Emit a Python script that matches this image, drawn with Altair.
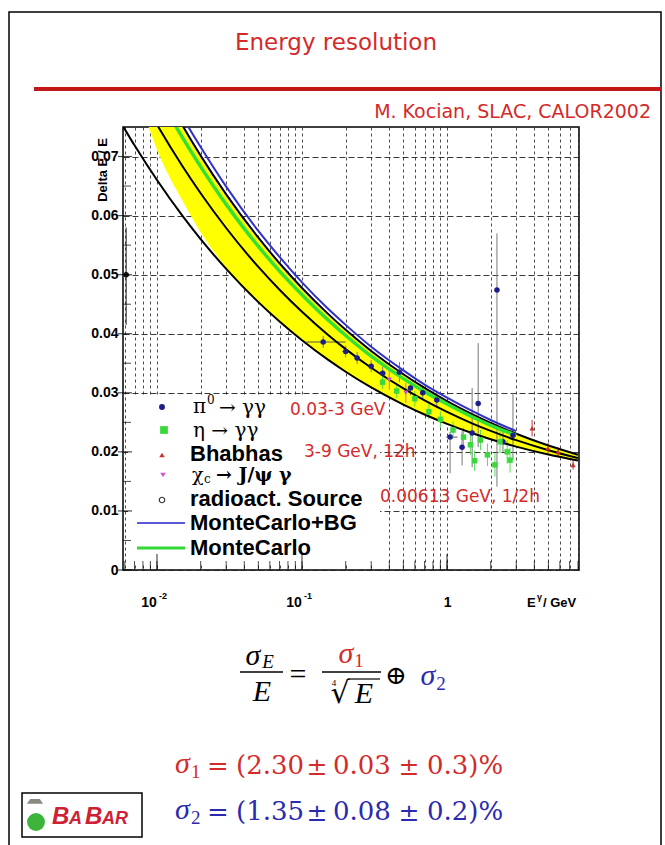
import altair as alt
import pandas as pd

# ---------------- data ----------------
# fitted resolution curves (sigma_E / E) on a common energy grid (GeV)
fit_E = [0.0058, 0.007, 0.01, 0.015, 0.02, 0.03, 0.05, 0.07, 0.1, 0.15, 0.2,
         0.3, 0.5, 0.7, 1.0, 1.5, 2.0, 3.0, 5.0, 8.0]
fit_low = [0.07523, 0.07190, 0.06602, 0.05995, 0.05602, 0.05098, 0.04535, 0.04206,
           0.03889, 0.03565, 0.03357, 0.03091, 0.02801, 0.02633, 0.02474, 0.02315,
           0.02214, 0.02089, 0.01955, 0.01852]
fit_mid = [0.0861, 0.08223, 0.07541, 0.06835, 0.06378, 0.05790, 0.05131, 0.04745,
           0.04371, 0.03987, 0.03740, 0.03424, 0.03074, 0.02871, 0.02676, 0.02479,
           0.02355, 0.02198, 0.02028, 0.01895]
fit_up = [0.0949, 0.09066, 0.08309, 0.07524, 0.07015, 0.06360, 0.05626, 0.05193,
          0.04775, 0.04345, 0.04067, 0.03709, 0.03314, 0.03082, 0.02860, 0.02634,
          0.02490, 0.02307, 0.02108, 0.01952]

# Monte Carlo curves
mc_E = [0.0058, 0.007, 0.01, 0.015, 0.02, 0.03, 0.05, 0.07, 0.1, 0.15, 0.2,
        0.3, 0.5, 0.7, 1.0, 1.5, 2.0, 3.0]
mc_plain = [0.0923, 0.0881, 0.0808, 0.0732, 0.0683, 0.0619, 0.0548, 0.0506, 0.0466,
            0.0424, 0.0397, 0.0362, 0.0324, 0.0302, 0.0281, 0.0259, 0.0245, 0.0228]
mc_bg = [0.0968, 0.0925, 0.0848, 0.0767, 0.0716, 0.0649, 0.0574, 0.0530, 0.0487,
         0.0443, 0.0415, 0.0378, 0.0338, 0.0314, 0.0292, 0.0269, 0.0254, 0.0235]

# yellow error band
band_E = [0.0087, 0.01, 0.015, 0.02, 0.03, 0.05, 0.07, 0.1, 0.15, 0.2, 0.3, 0.5,
          0.7, 1.0, 1.5, 2.0, 3.0, 5.0, 8.0]
band_lo = [0.0752, 0.0712, 0.0625, 0.0572, 0.0512, 0.04535, 0.04206, 0.03889, 0.03565,
           0.03357, 0.03091, 0.02801, 0.02633, 0.02474, 0.02315, 0.02214, 0.02089,
           0.01955, 0.01852]
band_hi = [0.0859, 0.08309, 0.07524, 0.07015, 0.06360, 0.05626, 0.05193, 0.04775,
           0.04345, 0.04067, 0.03709, 0.03314, 0.03082, 0.02860, 0.02634, 0.02490,
           0.02307, 0.02108, 0.01952]

# pi0 -> gamma gamma
pi0_E = [0.14, 0.20, 0.24, 0.30, 0.36, 0.47, 0.56, 0.68, 0.85, 1.05, 1.27, 1.49, 1.64, 2.21, 2.43, 2.85]
pi0_v = [0.0386, 0.0370, 0.0359, 0.0345, 0.0333, 0.0335, 0.0308, 0.0300, 0.0288, 0.0225,
         0.0208, 0.0232, 0.0282, 0.0474, 0.0217, 0.0228]
pi0_lo = [0.0376, 0.0360, 0.0349, 0.0335, 0.0322, 0.0318, 0.0296, 0.0288, 0.0274, 0.0164,
          0.0177, 0.0174, 0.0208, 0.0141, 0.0200, 0.0186]
pi0_hi = [0.0396, 0.0380, 0.0369, 0.0355, 0.0344, 0.0352, 0.0320, 0.0312, 0.0302, 0.0234,
          0.0235, 0.0308, 0.0384, 0.0570, 0.0235, 0.0300]
pi0_Elo = [0.107, 0.19, 0.23, 0.29, 0.345, 0.45, 0.54, 0.66, 0.82, 0.99, 1.22, 1.44, 1.58, 2.13, 2.35, 2.75]
pi0_Ehi = [0.20, 0.21, 0.25, 0.31, 0.375, 0.49, 0.58, 0.70, 0.88, 1.18, 1.32, 1.54, 1.70, 2.29, 2.51, 2.95]

# eta -> gamma gamma
eta_E = [0.36, 0.45, 0.60, 0.75, 0.90, 1.10, 1.30, 1.45, 1.55, 1.70, 1.90, 2.14, 2.32, 2.60, 2.72]
eta_v = [0.0318, 0.0303, 0.0290, 0.0268, 0.0255, 0.0237, 0.0225, 0.0212, 0.0185, 0.0220,
         0.0195, 0.0178, 0.0217, 0.0200, 0.0186]
eta_lo = [0.0306, 0.0291, 0.0277, 0.0255, 0.0241, 0.0222, 0.0209, 0.0195, 0.0168, 0.0203,
          0.0176, 0.0158, 0.0198, 0.0180, 0.0165]
eta_hi = [0.0330, 0.0315, 0.0303, 0.0281, 0.0269, 0.0252, 0.0241, 0.0229, 0.0202, 0.0237,
          0.0214, 0.0198, 0.0236, 0.0220, 0.0207]

# Bhabhas
bha_E = [3.86, 4.97, 5.83, 7.4]
bha_v = [0.0240, 0.0206, 0.0200, 0.0178]
bha_lo = [0.0226, 0.0197, 0.0192, 0.0170]
bha_hi = [0.0254, 0.0215, 0.0208, 0.0186]

# chi_c -> J/psi gamma
chi_E = [0.40, 0.52]
chi_v = [0.0322, 0.0300]
chi_lo = [0.0305, 0.0283]
chi_hi = [0.0339, 0.0317]

# radioactive source
src_E = [0.00613]
src_v = [0.0500]
src_lo = [0.0415]
src_hi = [0.0580]

# axis ticks / grid / decade labels
x_ticks = [0.006, 0.007, 0.008, 0.009,
           0.01, 0.02, 0.03, 0.04, 0.05, 0.06, 0.07, 0.08, 0.09,
           0.1, 0.2, 0.3, 0.4, 0.5, 0.6, 0.7, 0.8, 0.9,
           1, 2, 3, 4, 5, 6, 7, 8]
x_major = [0.01, 0.1, 1]
dec_E = [0.01, 0.1]
dec_base = ["10", "10"]
dec_exp = ["-2", "-1"]
y_ticks = [0, 0.01, 0.02, 0.03, 0.04, 0.05, 0.06, 0.07]
y_minor = [0.005, 0.015, 0.025, 0.035, 0.045, 0.055, 0.065]

# ---------------- layout ----------------
OX, OY = 123, 127          # plot-area origin in the page
W, H = 456, 443

RED = "#d42a2a"
BLUE = "#2a2ab0"
SERIF = "DejaVu Serif"

xs = alt.Scale(type="log", domain=[0.00583, 8.13], nice=False)
ys = alt.Scale(domain=[0, 0.075], nice=False)

one = pd.DataFrame({"k": [0]})


def txt(s, x, y, size, color="black", font="Liberation Sans", weight="normal",
        style="normal", align="left", angle=0):
    return alt.Chart(one).mark_text(
        text=s, fontSize=size, color=color, font=font, fontWeight=weight,
        fontStyle=style, align=align, baseline="middle", angle=angle
    ).encode(x=alt.value(x - OX), y=alt.value(y - OY))


def hline(x1, x2, y, color, width):
    return alt.Chart(one).mark_rule(color=color, strokeWidth=width).encode(
        x=alt.value(x1 - OX), x2=alt.value(x2 - OX), y=alt.value(y - OY))


def box(x1, y1, x2, y2, fill, stroke=None, width=1.5):
    kw = dict(fill=fill)
    if stroke:
        kw.update(stroke=stroke, strokeWidth=width)
    return alt.Chart(one).mark_rect(**kw).encode(
        x=alt.value(x1 - OX), x2=alt.value(x2 - OX),
        y=alt.value(y1 - OY), y2=alt.value(y2 - OY))


def dot(x, y, shape, color, size, filled=True):
    return alt.Chart(one).mark_point(shape=shape, color=color, size=size, filled=filled,
                                     opacity=1, strokeWidth=1.2).encode(
        x=alt.value(x - OX), y=alt.value(y - OY))


xaxis = alt.Axis(values=x_ticks, title=None, grid=True, gridColor="#222222",
                 gridDash=[3, 3], gridWidth=0.9, gridOpacity=0.9, ticks=False, domain=False,
                 labelExpr="datum.value == 1 ? '1' : ''",
                 labelFont="Liberation Sans", labelFontWeight="bold", labelFontSize=14,
                 labelColor="black", labelPadding=25, labelOverlap=False, labelFlush=False)
yaxis = alt.Axis(values=y_ticks, title=None, grid=True, gridColor="#222222",
                 gridDash=[6, 3], gridWidth=1, gridOpacity=0.9, ticks=False, domain=False,
                 labelExpr="datum.value == 0 ? '0' : format(datum.value, '.2f')",
                 labelFont="Liberation Sans", labelFontWeight="bold", labelFontSize=14,
                 labelColor="black", labelPadding=5, labelOverlap=False, labelFlush=False)

X = lambda f: alt.X(f, scale=xs, axis=xaxis)
Y = lambda f: alt.Y(f, scale=ys, axis=yaxis)

band_df = pd.DataFrame({"E": band_E, "lo": band_lo, "hi": band_hi})
band = alt.Chart(band_df).mark_area(color="#ffff00", clip=True, interpolate="monotone", opacity=1).encode(
    x=X("E:Q"), y=Y("lo:Q"), y2="hi:Q")

fits_df = pd.DataFrame({"E": fit_E * 3, "v": fit_low + fit_mid + fit_up,
                        "c": ["low"] * len(fit_E) + ["mid"] * len(fit_E) + ["up"] * len(fit_E)})
fits = alt.Chart(fits_df).mark_line(color="black", strokeWidth=2, clip=True, interpolate="monotone").encode(
    x=X("E:Q"), y=Y("v:Q"), detail="c:N")

mc_df = pd.DataFrame({"E": mc_E, "plain": mc_plain, "bg": mc_bg})
mc_green = alt.Chart(mc_df).mark_line(color="#33e033", strokeWidth=3.5, clip=True, interpolate="monotone").encode(
    x=X("E:Q"), y=Y("plain:Q"))
mc_blue = alt.Chart(mc_df).mark_line(color="#3030c8", strokeWidth=2, clip=True, interpolate="monotone").encode(
    x=X("E:Q"), y=Y("bg:Q"))

pi0_df = pd.DataFrame({"E": pi0_E, "v": pi0_v, "lo": pi0_lo, "hi": pi0_hi, "Elo": pi0_Elo, "Ehi": pi0_Ehi})
eta_df = pd.DataFrame({"E": eta_E, "v": eta_v, "lo": eta_lo, "hi": eta_hi})
bha_df = pd.DataFrame({"E": bha_E, "v": bha_v, "lo": bha_lo, "hi": bha_hi})
chi_df = pd.DataFrame({"E": chi_E, "v": chi_v, "lo": chi_lo, "hi": chi_hi})
src_df = pd.DataFrame({"E": src_E, "v": src_v, "lo": src_lo, "hi": src_hi})


def vbars(df, color, width=1):
    return alt.Chart(df).mark_rule(color=color, strokeWidth=width, clip=True).encode(
        x=X("E:Q"), y=Y("lo:Q"), y2="hi:Q")


pi0_v_err = vbars(pi0_df, "#777777")
pi0_h_err = alt.Chart(pi0_df).mark_rule(color="#555555", strokeWidth=1, clip=True).encode(
    x=X("Elo:Q"), x2="Ehi:Q", y=Y("v:Q"))
eta_err = vbars(eta_df, "#55dd55")
bha_err = vbars(bha_df, "#cc3333")
chi_err = vbars(chi_df, "#cc66cc")
src_err = vbars(src_df, "#222222")

pi0_pts = alt.Chart(pi0_df).mark_point(shape="circle", filled=True, color="#1c1c8a", size=30, opacity=1, clip=True).encode(
    x=X("E:Q"), y=Y("v:Q"))
eta_pts = alt.Chart(eta_df).mark_point(shape="square", filled=True, color="#3ad83a", size=30, opacity=1, clip=True).encode(
    x=X("E:Q"), y=Y("v:Q"))
bha_pts = alt.Chart(bha_df).mark_point(shape="triangle-up", filled=True, color="#cc3030", size=28, opacity=1, clip=True).encode(
    x=X("E:Q"), y=Y("v:Q"))
chi_pts = alt.Chart(chi_df).mark_point(shape="triangle-down", filled=True, color="#cc55cc", size=28, opacity=1, clip=True).encode(
    x=X("E:Q"), y=Y("v:Q"))
src_pts = alt.Chart(src_df).mark_point(shape="circle", filled=True, color="#111111", size=30, opacity=1, clip=True).encode(
    x=X("E:Q"), y=Y("v:Q"))

# inward ROOT-style ticks
xt_minor = alt.Chart(pd.DataFrame({"E": x_ticks})).mark_tick(color="black", thickness=1, size=9).encode(
    x=X("E:Q"), y=alt.value(H - 4.5))
xt_major = alt.Chart(pd.DataFrame({"E": x_major})).mark_tick(color="black", thickness=1.2, size=16).encode(
    x=X("E:Q"), y=alt.value(H - 8))
yt_major = alt.Chart(pd.DataFrame({"v": y_ticks})).mark_tick(color="black", thickness=1.2, size=14).encode(
    y=Y("v:Q"), x=alt.value(2))
yt_minor = alt.Chart(pd.DataFrame({"v": y_minor})).mark_tick(color="black", thickness=1, size=8).encode(
    y=Y("v:Q"), x=alt.value(4))

# decade labels 10^-2, 10^-1 placed through the x scale
dec_df = pd.DataFrame({"E": dec_E, "base": dec_base, "exp": dec_exp})
dec_base_t = alt.Chart(dec_df).mark_text(fontSize=14, fontWeight="bold", font="Liberation Sans",
                                         color="black", dx=-8, baseline="middle").encode(
    x=X("E:Q"), y=alt.value(H + 33), text="base:N")
dec_exp_t = alt.Chart(dec_df).mark_text(fontSize=9, fontWeight="bold", font="Liberation Sans",
                                        color="black", dx=6, baseline="middle").encode(
    x=X("E:Q"), y=alt.value(H + 26), text="exp:N")

layers = [
    band,
    box(128, 397, 380, 563, fill="white"),
    pi0_v_err, pi0_h_err, eta_err, bha_err, chi_err, src_err,
    fits, mc_green, mc_blue,
    pi0_pts, eta_pts, bha_pts, chi_pts, src_pts,
    xt_minor, xt_major, yt_major, yt_minor,
    dec_base_t, dec_exp_t,
    # slide decoration
    box(9, 12, 661, 852, fill="transparent", stroke="black", width=1.5),
    txt("Energy resolution", 336, 43, 23, RED, font="DejaVu Sans", align="center"),
    hline(34, 662, 89, "#c01818", 4),
    txt("M. Kocian, SLAC, CALOR2002", 651, 112, 19, RED, font="DejaVu Sans", align="right"),
    # axis titles
    txt("Delta E / E", 103, 170, 13, weight="bold", align="center", angle=270),
    txt("E", 527, 603, 13, weight="bold"),
    txt("γ", 537, 597, 9, weight="bold"),
    txt("/ GeV", 543, 603, 13, weight="bold"),
    # in-plot legend
    dot(162, 407, "circle", "#1c1c8a", 35),
    txt("π", 193, 407, 20, font=SERIF),
    txt("0", 207, 400, 12, font=SERIF),
    txt("→ γγ", 219, 408, 20, font=SERIF),
    txt("0.03-3 GeV", 290, 410, 17, RED, font="DejaVu Sans"),
    dot(164, 430, "square", "#3ad83a", 60),
    txt("η → γγ", 193, 431, 20, font=SERIF),
    dot(162, 455, "triangle-up", "#cc3030", 30),
    txt("Bhabhas", 190, 454, 22, weight="bold"),
    txt("3-9 GeV, 12h", 304, 452, 17, RED, font="DejaVu Sans"),
    dot(163, 475, "triangle-down", "#cc55cc", 30),
    txt("χ", 192, 475, 19, font=SERIF),
    txt("c", 204, 479, 12, font=SERIF),
    txt("→ J/ψ γ", 216, 475, 19, font=SERIF, weight="bold"),
    dot(162, 500, "circle", "#333333", 30, filled=False),
    txt("radioact. Source", 190, 499, 22, weight="bold"),
    txt("0.00613 GeV, 1/2h", 380, 497, 17, RED, font="DejaVu Sans"),
    hline(137, 185, 523, "#5a5ad8", 2),
    txt("MonteCarlo+BG", 190, 523, 22, weight="bold"),
    hline(137, 185, 548, "#33d833", 3),
    txt("MonteCarlo", 190, 548, 22, weight="bold"),
    # formula
    txt("σ", 253, 656, 30, font="Liberation Serif", style="italic", align="center"),
    txt("E", 268, 662, 19, font="Liberation Serif", style="italic", align="center"),
    hline(240, 283, 672, "black", 1.5),
    txt("E", 262, 692, 30, font="Liberation Serif", style="italic", align="center"),
    txt("=", 298, 675, 30, font="Liberation Serif", align="center"),
    txt("σ", 346, 654, 30, RED, font="Liberation Serif", style="italic", align="center"),
    txt("1", 359, 661, 19, RED, font="Liberation Serif", align="center"),
    hline(322, 381, 672, "black", 1.5),
    txt("√", 340, 694, 30, font="DejaVu Serif", align="center"),
    hline(348, 380, 679, "black", 1.2),
    txt("4", 334, 683, 9, font="Liberation Serif", align="center"),
    txt("E", 364, 694, 30, font="Liberation Serif", style="italic", align="center"),
    txt("⊕", 396, 676, 26, font="DejaVu Serif", align="center"),
    txt("σ", 428, 676, 30, BLUE, font="Liberation Serif", style="italic", align="center"),
    txt("2", 441, 684, 19, BLUE, font="Liberation Serif", align="center"),
    # fit results
    txt("σ", 175, 764, 30, RED, font="Liberation Serif", style="italic"),
    txt("1", 191, 772, 19, RED, font="Liberation Serif"),
    txt("=", 218, 767, 26, RED, font=SERIF, align="center"),
    txt("(2.30", 236, 766, 26, RED, font=SERIF),
    txt("±", 317, 767, 25, RED, font=SERIF, align="center"),
    txt("0.03", 333, 766, 26, RED, font=SERIF),
    txt("±", 409, 767, 25, RED, font=SERIF, align="center"),
    txt("0.3)%", 427, 766, 26, RED, font=SERIF),
    txt("σ", 175, 810, 30, BLUE, font="Liberation Serif", style="italic"),
    txt("2", 191, 818, 19, BLUE, font="Liberation Serif"),
    txt("=", 218, 813, 26, BLUE, font=SERIF, align="center"),
    txt("(1.35", 236, 812, 26, BLUE, font=SERIF),
    txt("±", 317, 813, 25, BLUE, font=SERIF, align="center"),
    txt("0.08", 333, 812, 26, BLUE, font=SERIF),
    txt("±", 409, 813, 25, BLUE, font=SERIF, align="center"),
    txt("0.2)%", 427, 812, 26, BLUE, font=SERIF),
    # BaBar logo
    box(22, 793, 142, 837, fill="white", stroke="black", width=1.5),
    dot(36, 822, "circle", "#3cb43c", 320),
    dot(35, 801, "M-1,0.35L1,0.35L0.6,-0.25L-0.6,-0.25Z", "#8a8a80", 260),
    txt("B", 52, 817, 24, "#cc2233", weight="bold", style="italic"),
    txt("A", 69, 819, 18, "#cc2233", weight="bold", style="italic"),
    txt("B", 85, 817, 24, "#cc2233", weight="bold", style="italic"),
    txt("AR", 102, 819, 18, "#cc2233", weight="bold", style="italic"),
]

chart = alt.layer(*layers).properties(
    width=W, height=H,
    padding={"left": OX, "top": OY, "right": 665 - OX - W, "bottom": 845 - OY - H},
    autosize=alt.AutoSizeParams(type="none"),
    background="white",
).configure_view(stroke="black", strokeWidth=1.5)

chart.save("out.html", embed_options={"renderer": "svg", "actions": False})
